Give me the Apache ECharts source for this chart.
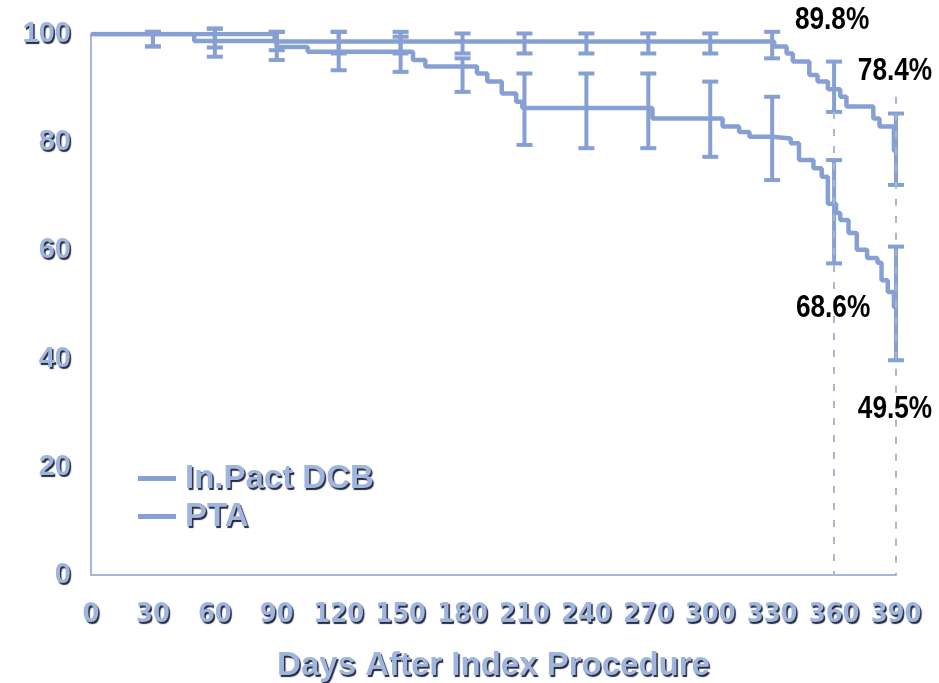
<!DOCTYPE html>
<html>
<head>
<meta charset="utf-8">
<script src="https://cdn.jsdelivr.net/npm/echarts@6/dist/echarts.min.js"></script>
<style>
  html, body { margin: 0; padding: 0; background: #ffffff; }
  #chart { width: 939px; height: 683px; }
</style>
</head>
<body>
<div id="chart"></div>
<script>
// Kaplan-Meier style freedom-from-event curves, [day, percent] at each step
const dcbCurve = [[0,100],[89,98.6],[330,98.6],[331,97.7],[337,96.4],[340,94.9],[348,92.4],[352,91.2],[357,89.8],[363,88.4],[366,86.6],[379,84.4],[382,82.9],[389,78.4],[390,78.4]];
const ptaCurve = [[0,100],[50,98.7],[90,97.6],[105,96.7],[156,95.2],[162,94.0],[187,92.7],[192,91.2],[199,89.0],[206,87.5],[209,86.3],[272,84.4],[306,82.9],[314,81.9],[319,81.0],[330,80.7],[339,79.8],[343,76.7],[350,75.2],[354,73.6],[357,68.6],[361,66.9],[363,65.6],[367,63.2],[371,60.1],[376,58.6],[381,57.7],[383,54.5],[386,52.3],[389,49.5],[390,49.5]];

// confidence interval bars
const errDays = [30,60,90,120,150,180,210,240,270,300,330,360,390];
const dcbLow  = [97.7,97.5,97.0,96.4,96.4,96.4,96.4,96.4,96.4,96.4,95.5,85.6,72.1];
const dcbHigh = [100.4,101.0,100.4,100.4,100.4,100.1,100.1,100.1,100.1,100.1,100.4,94.9,85.3];
const ptaLow  = [97.7,95.8,95.2,93.3,93.0,89.3,79.5,78.9,78.9,77.3,73.0,57.6,39.7];
const ptaHigh = [100.4,101.0,100.4,100.4,99.5,95.5,92.7,92.7,92.7,91.2,88.4,76.7,60.7];

// highlighted estimates
const labelDays = [360, 390];
const dcbLabels = [89.8, 78.4];
const ptaLabels = [68.6, 49.5];
const guideTop = [85.6, 88.4];

const seriesNames = ['In.Pact DCB', 'PTA'];
const xTicks = [0,30,60,90,120,150,180,210,240,270,300,330,360,390];
const yTicks = [0,20,40,60,80,100];

const curveColor = '#86a0d3';
const narrowFont = '"DejaVu Sans Condensed", "Liberation Sans Narrow", "Arial Narrow", sans-serif';
const embossed = {
  color: '#a0b5de',
  fontWeight: 'bold',
  textShadowColor: 'rgba(25,32,50,0.95)',
  textShadowBlur: 1,
  textShadowOffsetX: 1.5,
  textShadowOffsetY: 2
};

function errBars(lo, hi) {
  return errDays.map((d, i) => [d, lo[i], hi[i]]);
}

function renderErr(params, api) {
  const x = api.value(0);
  const p1 = api.coord([x, api.value(1)]);
  const p2 = api.coord([x, api.value(2)]);
  const hw = 8;
  const style = { stroke: curveColor, lineWidth: 4 };
  return {
    type: 'group',
    children: [
      { type: 'line', shape: { x1: p1[0], y1: p1[1], x2: p2[0], y2: p2[1] }, style },
      { type: 'line', shape: { x1: p1[0] - hw, y1: p1[1], x2: p1[0] + hw, y2: p1[1] }, style },
      { type: 'line', shape: { x1: p2[0] - hw, y1: p2[1], x2: p2[0] + hw, y2: p2[1] }, style }
    ]
  };
}

const chart = echarts.init(document.getElementById('chart'));
chart.setOption({
  animation: false,
  grid: { left: 91, right: 43, top: 34, bottom: 108, outerBoundsMode: 'none', containLabel: false },
  legend: {
    data: seriesNames,
    orient: 'vertical',
    left: 133,
    top: 457,
    itemGap: 5,
    itemWidth: 38,
    itemHeight: 5,
    icon: 'rect',
    textStyle: Object.assign({ fontFamily: '"Liberation Sans", Arial, sans-serif', fontSize: 33, padding: [0,0,0,4] }, embossed)
  },
  xAxis: {
    type: 'value',
    min: 0, max: 390, interval: 30,
    name: 'Days After Index Procedure',
    nameLocation: 'middle',
    nameGap: 74,
    nameTextStyle: Object.assign({ fontFamily: '"Liberation Sans", Arial, sans-serif', fontSize: 33 }, embossed),
    axisLine: { lineStyle: { color: '#a9b7d6', width: 2 } },
    axisTick: { show: false },
    splitLine: { show: false },
    axisLabel: Object.assign({
      fontFamily: narrowFont,
      fontSize: 27, margin: 26,
      formatter: v => xTicks.includes(v) ? String(v) : ''
    }, embossed)
  },
  yAxis: {
    type: 'value',
    min: 0, max: 100, interval: 20,
    axisLine: { show: true, lineStyle: { color: '#a9b7d6', width: 2 } },
    axisTick: { show: false },
    splitLine: { show: false },
    axisLabel: Object.assign({
      fontFamily: '"Liberation Sans", Arial, sans-serif',
      fontSize: 29, margin: 20,
      formatter: v => yTicks.includes(v) ? String(v) : ''
    }, embossed)
  },
  series: [
    {
      name: seriesNames[0],
      type: 'line',
      step: 'end',
      data: dcbCurve,
      symbol: 'none',
      color: curveColor,
      lineStyle: { width: 4.5, color: curveColor },
      z: 3,
      markLine: {
        silent: true,
        symbol: 'none',
        label: { show: false },
        lineStyle: { type: [7, 10], color: '#a9b6cf', width: 2 },
        data: labelDays.map((d, i) => [{ coord: [d, guideTop[i]] }, { coord: [d, 0] }])
      }
    },
    {
      name: seriesNames[1],
      type: 'line',
      step: 'end',
      data: ptaCurve,
      symbol: 'none',
      color: curveColor,
      lineStyle: { width: 4.5, color: curveColor },
      z: 3
    },
    {
      name: 'DCB interval',
      type: 'custom',
      renderItem: renderErr,
      data: errBars(dcbLow, dcbHigh),
      encode: { x: 0, y: [1, 2] },
      z: 4,
      silent: true
    },
    {
      name: 'PTA interval',
      type: 'custom',
      renderItem: renderErr,
      data: errBars(ptaLow, ptaHigh),
      encode: { x: 0, y: [1, 2] },
      z: 4,
      silent: true
    }
  ]
});

// percentage call-outs, anchored at the curve value they state
const callouts = [
  { day: labelDays[0], value: dcbLabels[0], dx: -2, dy: -69 },
  { day: labelDays[1], value: dcbLabels[1], dx: -1, dy: -80 },
  { day: labelDays[0], value: ptaLabels[0], dx: -1, dy: 104 },
  { day: labelDays[1], value: ptaLabels[1], dx: -1, dy: 102 }
];
chart.setOption({
  graphic: callouts.map(c => {
    const p = chart.convertToPixel({ gridIndex: 0 }, [c.day, c.value]);
    return {
      type: 'text',
      x: p[0] + c.dx,
      y: p[1] + c.dy,
      scaleX: 0.82,
      z: 10,
      style: {
        text: c.value.toFixed(1) + '%',
        font: 'bold 32px "Liberation Sans", Arial, sans-serif',
        fill: '#000',
        align: 'center',
        verticalAlign: 'middle'
      }
    };
  })
});
</script>
</body>
</html>
